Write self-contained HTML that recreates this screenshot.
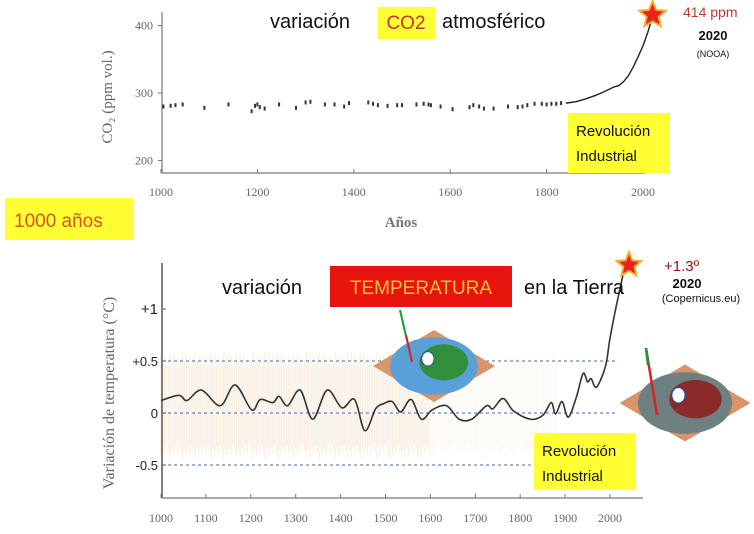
<!DOCTYPE html>
<html><head><meta charset="utf-8">
<style>
body{margin:0;background:#fff;}
svg{display:block;font-family:"Liberation Sans",sans-serif;}
.serif{font-family:"Liberation Serif",serif;}
</style></head>
<body>
<svg id="c" width="754" height="534" viewBox="0 0 754 534">
<rect width="754" height="534" fill="#fff"/>
<g id="topChart"></g>
<g id="botChart"></g>
</svg>
<script>
// ---- CO2 data ----
const co2Years=[1005,1020,1030,1045,1090,1140,1188,1195,1200,1205,1215,1245,1280,1300,1310,1340,1360,1380,1390,1430,1440,1450,1470,1490,1500,1530,1545,1555,1560,1580,1605,1640,1648,1660,1670,1690,1720,1740,1750,1760,1775,1790,1800,1810,1820,1830];
const co2Values=[280,281,282,283,278,283,273,281,283,279,277,283,278,286,287,283,283,280,285,286,284,282,281,282,282,283,284,283,282,280,276,279,282,280,277,277,280,279,280,282,284,284,283,284,284,285];
const co2LineYears=[1840,1860,1880,1900,1920,1940,1950,1960,1970,1980,1990,2000,2010,2020];
const co2LineValues=[285,287,291,296,302,309,311,317,326,339,354,370,390,414];
const co2Ticks=[200,300,400];
const yearTicksTop=[1000,1200,1400,1600,1800,2000];
// ---- Temperature data ----
const tempYears=[1000,1040,1058,1090,1132,1165,1202,1221,1249,1263,1282,1310,1338,1370,1403,1431,1454,1478,1496,1515,1534,1557,1580,1604,1636,1664,1692,1725,1739,1762,1785,1823,1851,1869,1879,1893,1907,1925,1940,1950,1958,1970,1990,2000,2015,2030];
const tempValues=[0.12,0.17,0.12,0.22,0.07,0.27,0.03,0.13,0.10,0.16,0.07,0.22,-0.06,0.22,0.05,0.13,-0.17,0.04,0.09,0.11,0.01,0.13,-0.06,0.03,0.07,-0.06,-0.06,0.07,0.04,0.14,0.02,-0.06,-0.02,0.10,-0.01,0.11,-0.04,0.15,0.38,0.30,0.33,0.25,0.45,0.72,1.05,1.35];
const tempTicks=[-0.5,0,0.5,1];
const tempTickLabels=["-0.5","0","+0.5","+1"];
const yearTicksBot=[1000,1100,1200,1300,1400,1500,1600,1700,1800,1900,2000];

const NS="http://www.w3.org/2000/svg";
function mk(parent,tag,attrs,text){const el=document.createElementNS(NS,tag);for(const k in attrs)el.setAttribute(k,attrs[k]);if(text!==undefined)el.textContent=text;parent.appendChild(el);return el;}
const xT=y=>161+(y-1000)*0.482;
const yT=v=>93-(v-300)*0.675;
const xB=y=>161+(y-1000)*0.449;
const yB=v=>413-v*104;

const gTop=document.getElementById('topChart');
const gBot=document.getElementById('botChart');

let e;
e=mk(gTop,'line',{x1:162,y1:12,x2:162,y2:173,stroke:'#777','stroke-width':1.2});


e=mk(gTop,'line',{x1:162,y1:173,x2:645,y2:173,stroke:'#777','stroke-width':1.2});


co2Ticks.forEach(t=>{
 mk(gTop,'line',{x1:158,y1:yT(t),x2:162,y2:yT(t),stroke:'#777'});
 const l=mk(gTop,'text',{x:153,y:yT(t)+4,'text-anchor':'end','font-size':12,fill:'#666',class:'serif'},t);
 
 
});
yearTicksTop.forEach(t=>{
 mk(gTop,'line',{x1:xT(t),y1:173,x2:xT(t),y2:169,stroke:'#777'});
 const l=mk(gTop,'text',{x:xT(t),y:196,'text-anchor':'middle','font-size':12,fill:'#666',class:'serif'},t);
 
 
});
e=mk(gTop,'text',{x:401,y:227,'text-anchor':'middle','font-size':15,'font-weight':'bold',fill:'#777',class:'serif'},'Años');


e=mk(gTop,'text',{x:0,y:0,'text-anchor':'middle','font-size':15,fill:'#666',class:'serif',transform:'translate(112,97) rotate(-90)'},'CO₂ (ppm vol.)');


co2Years.forEach((y,i)=>{
 const p=mk(gTop,'rect',{x:xT(y)-1,y:yT(co2Values[i])-2,width:2,height:4,fill:'#333'});
 
 
});
e=mk(gTop,'polyline',{points:co2LineYears.map((y,i)=>xT(y)+','+yT(co2LineValues[i])).join(' '),fill:'none',stroke:'#222','stroke-width':1.4});


e=mk(gTop,'text',{x:270,y:28,'font-size':20,fill:'#111'},'variación');


mk(gTop,'rect',{x:378,y:7,width:57,height:32,fill:'#ffff33'});
e=mk(gTop,'text',{x:406,y:29,'text-anchor':'middle','font-size':19,fill:'#c0392b'},'CO2');


mk(gTop,'text',{x:442,y:28,'font-size':20,fill:'#111'},'atmosférico');
mk(gTop,'rect',{x:568,y:113,width:102,height:60,fill:'#ffff33'});
mk(gTop,'text',{x:576,y:136,'font-size':15,fill:'#111'},'Revolución');
mk(gTop,'text',{x:576,y:161,'font-size':15,fill:'#111'},'Industrial');
function star(g,cx,cy,r,name){
 let p=[];for(let i=0;i<10;i++){const a=-Math.PI/2+i*Math.PI/5;const rr=i%2?r*0.45:r;p.push((cx+rr*Math.cos(a)).toFixed(1)+','+(cy+rr*Math.sin(a)).toFixed(1));}
 const s=mk(g,'polygon',{points:p.join(' '),fill:'#e8231e',stroke:'#f2b233','stroke-width':2});
 
 
}
star(gTop,xT(2020),15,14,'co2-star');
mk(gTop,'text',{x:683,y:17,'font-size':14,fill:'#c0392b'},'414 ppm');
mk(gTop,'text',{x:713,y:40,'text-anchor':'middle','font-size':13,'font-weight':'bold',fill:'#111'},'2020');
mk(gTop,'text',{x:713,y:57,'text-anchor':'middle','font-size':9,fill:'#111'},'(NOOA)');
mk(gTop,'rect',{x:5,y:198,width:128,height:42,fill:'#ffff33'});
e=mk(gTop,'text',{x:14,y:227,'font-size':19,fill:'#d9541e'},'1000 años');



// ---- bottom chart ----
const band=mk(gBot,'g',{opacity:0.35});


for(let yr=1000;yr<=1880;yr+=4){
 const k=(yr*37)%23/23;
 mk(band,'line',{x1:xB(yr),y1:yB(0.45+k*0.15),x2:xB(yr),y2:yB(-0.3-k*0.15),stroke:yr<1600?'#e8c89a':'#f0dcc0','stroke-width':1.5,opacity:yr<1600?0.7:0.4});
}
[0.5,0,-0.5].forEach(v=>{
 const g=mk(gBot,'line',{x1:162,y1:yB(v),x2:615,y2:yB(v),stroke:'#4a6aa5','stroke-width':1,'stroke-dasharray':'3,3'});
 
 
});
e=mk(gBot,'line',{x1:162,y1:263,x2:162,y2:498,stroke:'#555','stroke-width':1.5});


e=mk(gBot,'line',{x1:162,y1:498,x2:643,y2:498,stroke:'#777','stroke-width':1.2});


tempTicks.forEach((t,i)=>{
 mk(gBot,'line',{x1:162,y1:yB(t),x2:166,y2:yB(t),stroke:'#555'});
 const l=mk(gBot,'text',{x:158,y:yB(t)+5,'text-anchor':'end','font-size':i==3?15:13,fill:'#222'},tempTickLabels[i]);
 
 
});
yearTicksBot.forEach(t=>{
 mk(gBot,'line',{x1:xB(t),y1:498,x2:xB(t),y2:494,stroke:'#777'});
 const l=mk(gBot,'text',{x:xB(t),y:522,'text-anchor':'middle','font-size':12,fill:'#666',class:'serif'},t);
 
 
});
e=mk(gBot,'text',{x:0,y:0,'text-anchor':'middle','font-size':16,fill:'#666',class:'serif',transform:'translate(114,393) rotate(-90)'},'Variación de temperatura (°C)');


const pts=tempYears.map((y,i)=>[xB(y),yB(tempValues[i])]);
let d='M'+pts[0][0]+','+pts[0][1];
for(let i=0;i<pts.length-1;i++){
 const p0=pts[Math.max(0,i-1)],p1=pts[i],p2=pts[i+1],p3=pts[Math.min(pts.length-1,i+2)];
 d+=' C'+(p1[0]+(p2[0]-p0[0])/6)+','+(p1[1]+(p2[1]-p0[1])/6)+' '+(p2[0]-(p3[0]-p1[0])/6)+','+(p2[1]-(p3[1]-p1[1])/6)+' '+p2[0]+','+p2[1];
}
e=mk(gBot,'path',{d:d,fill:'none',stroke:'#333','stroke-width':1.6});


function globe(g,cx,cy,w,h,name,dark){
 const gg=mk(g,'g',{});
 
 
 mk(gg,'polygon',{points:(cx-w/2)+','+cy+' '+cx+','+(cy-h/2)+' '+(cx+w/2)+','+cy+' '+cx+','+(cy+h/2),fill:'#d9946a'});
 mk(gg,'ellipse',{cx:cx,cy:cy,rx:w*0.36,ry:h*0.4,fill:dark?'#6f8080':'#5aa0d8'});
 mk(gg,'ellipse',{cx:cx+w*0.08,cy:cy-h*0.05,rx:w*0.2,ry:h*0.25,fill:dark?'#8a2a2a':'#2f8f3a'});
 mk(gg,'ellipse',{cx:cx-w*0.05,cy:cy-h*0.1,rx:w*0.05,ry:h*0.1,fill:'#fff',stroke:'#2a4ea0'});
}
globe(gBot,434,366,122,72,'globe-1000',false);
mk(gBot,'line',{x1:400,y1:310,x2:412,y2:362,stroke:'#1a9a3a','stroke-width':2});
mk(gBot,'line',{x1:406,y1:335,x2:412,y2:362,stroke:'#d22','stroke-width':2});
globe(gBot,685,403,131,77,'globe-2020',true);
mk(gBot,'line',{x1:646,y1:348,x2:657,y2:415,stroke:'#d22','stroke-width':2.5});
mk(gBot,'line',{x1:646,y1:348,x2:648,y2:365,stroke:'#1a9a3a','stroke-width':2.5});
e=mk(gBot,'text',{x:222,y:294,'font-size':20,fill:'#111'},'variación');


mk(gBot,'rect',{x:330,y:266,width:182,height:41,fill:'#e8150f'});
e=mk(gBot,'text',{x:421,y:294,'text-anchor':'middle','font-size':19,fill:'#f5c043'},'TEMPERATURA');


mk(gBot,'text',{x:524,y:294,'font-size':20,fill:'#111'},'en la Tierra');
mk(gBot,'rect',{x:534,y:433,width:102,height:57,fill:'#ffff33'});
mk(gBot,'text',{x:542,y:456,'font-size':15,fill:'#111'},'Revolución');
mk(gBot,'text',{x:542,y:481,'font-size':15,fill:'#111'},'Industrial');
star(gBot,629,265,13,'temp-star');
mk(gBot,'text',{x:664,y:271,'font-size':15,fill:'#a01010'},'+1.3º');
mk(gBot,'text',{x:687,y:288,'text-anchor':'middle','font-size':13,'font-weight':'bold',fill:'#111'},'2020');
mk(gBot,'text',{x:701,y:302,'text-anchor':'middle','font-size':11,fill:'#111'},'(Copernicus.eu)');
</script>
</body></html>
